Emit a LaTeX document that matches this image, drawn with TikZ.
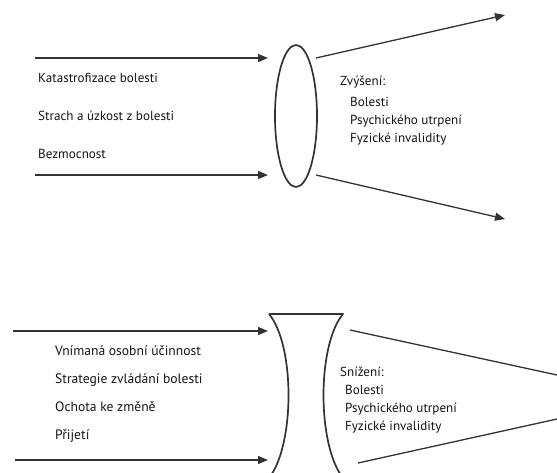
\documentclass[tikz,border=0pt]{standalone}
\usepackage{fontspec}
\setmainfont{PT Sans}
\usetikzlibrary{arrows.meta,shapes.geometric}
\definecolor{ink}{HTML}{141414}
\definecolor{stroke}{HTML}{333333}
\begin{document}
\begin{tikzpicture}[x=1pt,y=-1pt,
  label/.style={anchor=base west,inner sep=0pt,text=ink,font=\fontsize{13.1}{15}\selectfont},
  biglabel/.style={label,font=\fontsize{13.6}{16}\selectfont},
  flow/.style={draw=stroke,line width=1.3pt,-{Triangle[length=10pt,width=8pt]}},
  edge/.style={draw=stroke,line width=1.3pt},
  outline/.style={draw=stroke,line width=1.7pt}]
\useasboundingbox (0,0) rectangle (557,472);
\clip (0,0) rectangle (557,472);

% --- upper part: factors that increase pain ---
\node[outline,ellipse,minimum width=42pt,minimum height=142pt,inner sep=0pt] (lens) at (296,116) {};
\coordinate (inTopA) at (35,58);   \coordinate (inTopB) at (268,58);
\coordinate (inBotA) at (35,175);  \coordinate (inBotB) at (268,175);
\coordinate (outTopA) at (316,58); \coordinate (outTopB) at (505,15);
\coordinate (outBotA) at (316,175);\coordinate (outBotB) at (505,219);
\draw[flow] (inTopA) -- (inTopB);
\draw[flow] (inBotA) -- (inBotB);
\draw[flow] (outTopA) -- (outTopB);
\draw[flow] (outBotA) -- (outBotB);

\node[label] (k1) at (38,82)  {Katastrofizace bolesti};
\node[label] (k2) at (38,120) {Strach a úzkost z bolesti};
\node[label] (k3) at (38,158) {Bezmocnost};

\node[label] (z0) at (340,85)  {Zvýšení:};
\node[label] (z1) at (350,106) {Bolesti};
\node[label] (z2) at (350,124) {Psychického utrpení};
\node[label] (z3) at (350,142) {Fyzické invalidity};

% --- lower part: factors that reduce pain ---
\coordinate (gTL) at (269,314); \coordinate (gTR) at (343,314);
\coordinate (gBL) at (269,478); \coordinate (gBR) at (343,478);
\draw[outline,line join=round] (gTL) -- (gTR)
  .. controls (317,345) and (317,445) .. (gBR) -- (gBL)
  .. controls (295,445) and (295,345) .. (gTL);

\coordinate (lowInTopA) at (13,331);  \coordinate (lowInTopB) at (268,331);
\coordinate (lowInBotA) at (15,460);  \coordinate (lowInBotB) at (268,460);
\coordinate (lowOutTopA) at (350,330);\coordinate (lowOutTopB) at (557,375);
\coordinate (lowOutBotA) at (358,463);\coordinate (lowOutBotB) at (557,419);
\draw[flow] (lowInTopA) -- (lowInTopB);
\draw[flow] (lowInBotA) -- (lowInBotB);
\draw[edge] (lowOutTopA) -- (lowOutTopB);
\draw[edge] (lowOutBotA) -- (lowOutBotB);

\node[biglabel] (v1) at (55,355) {Vnímaná osobní účinnost};
\node[biglabel] (v2) at (55,383) {Strategie zvládání bolesti};
\node[biglabel] (v3) at (55,411) {Ochota ke změně};
\node[biglabel] (v4) at (55,439) {Přijetí};

\node[label] (s0) at (340,376) {Snížení:};
\node[label] (s1) at (345,394) {Bolesti};
\node[label] (s2) at (345,412) {Psychického utrpení};
\node[label] (s3) at (345,430) {Fyzické invalidity};
\end{tikzpicture}
\end{document}
